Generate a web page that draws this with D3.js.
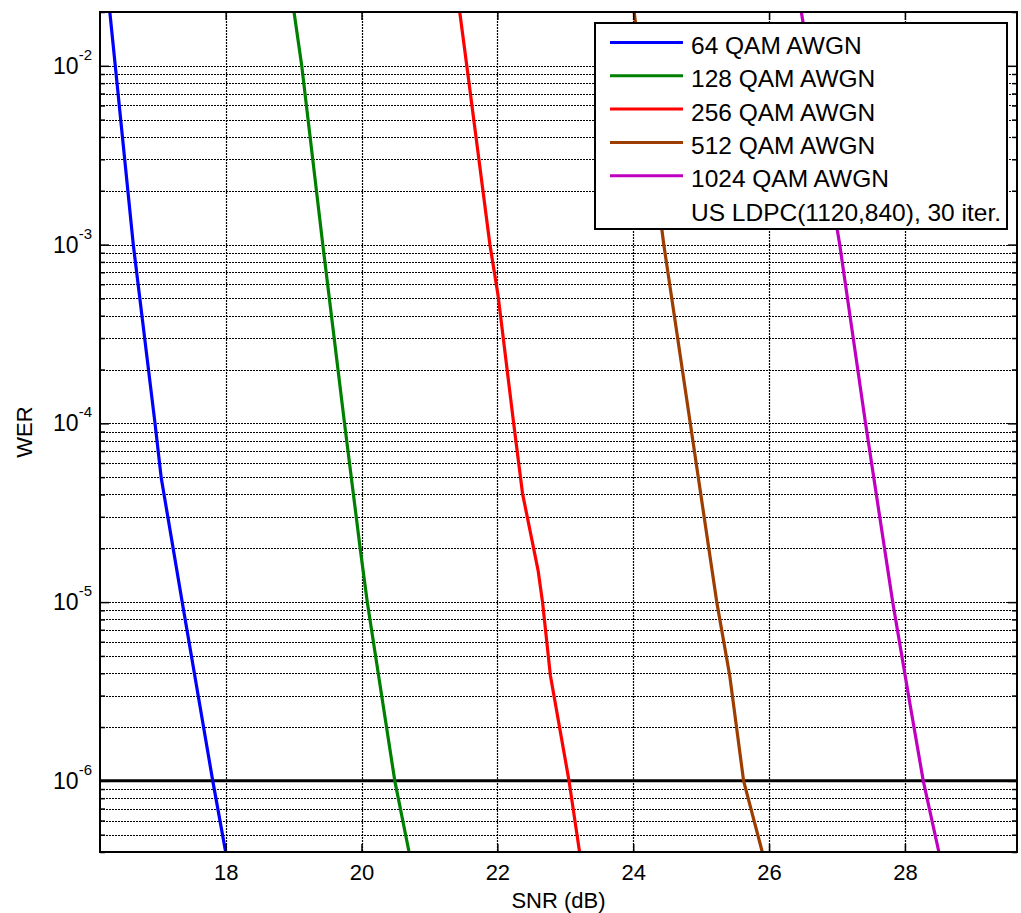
<!DOCTYPE html>
<html><head><meta charset="utf-8">
<script src="https://cdn.jsdelivr.net/npm/d3@7"></script>
<style>
body{margin:0;background:#fff}
svg{display:block}
text{font-family:"Liberation Sans",Arial,Helvetica,sans-serif;fill:#000}
</style>
</head><body>
<svg id="chart" width="1021" height="913"></svg>
<script>
// ---------- data ----------
const xDomain = [16.15, 29.65];
const yDomain = [4e-7, 2e-2];
const snrTicks = [18, 20, 22, 24, 26, 28];
const decadeExps = [-6, -5, -4, -3, -2];
const xLabel = "SNR (dB)";
const yLabel = "WER";
const refWER = 1e-6;

const seriesNames = ["64 QAM AWGN", "128 QAM AWGN", "256 QAM AWGN", "512 QAM AWGN", "1024 QAM AWGN"];
const seriesColors = ["#0000ff", "#008000", "#ff0000", "#9e3d00", "#c000c0"];
const legendNote = "US LDPC(1120,840), 30 iter.";

const snr64  = [16.29, 16.375, 16.64, 16.96, 17.05, 17.36, 17.81, 18.0];
const wer64  = [2.08e-2, 1e-2, 1e-3, 1e-4, 5.0e-5, 1e-5, 1e-6, 4.0e-7];
const snr128 = [19.0, 19.12, 19.43, 19.75, 19.98, 20.085, 20.49, 20.70];
const wer128 = [2.08e-2, 1e-2, 1e-3, 1e-4, 2.0e-5, 1e-5, 1e-6, 4.0e-7];
const snr256 = [21.44, 21.55, 21.89, 22.01, 22.24, 22.37, 22.60, 22.665, 22.78, 23.055, 23.21];
const wer256 = [2.08e-2, 1e-2, 1e-3, 5.2e-4, 1e-4, 4.06e-5, 1.5e-5, 1e-5, 3.9e-6, 1e-6, 4.0e-7];
const snr512 = [24.01, 24.45, 24.84, 25.23, 25.42, 25.625, 25.90];
const wer512 = [2.05e-2, 1e-3, 1e-4, 1e-5, 3.9e-6, 1e-6, 4.0e-7];
const snr1024 = [26.47, 27.04, 27.42, 27.82, 28.06, 28.27, 28.50];
const wer1024 = [2.05e-2, 1e-3, 1e-4, 1e-5, 2.9e-6, 1e-6, 4.0e-7];

const seriesSNR = [snr64, snr128, snr256, snr512, snr1024];
const seriesWER = [wer64, wer128, wer256, wer512, wer1024];

// ---------- layout ----------
const M = {left: 100, top: 12, right: 1017, bottom: 852};
const svg = d3.select("#chart");
const x = d3.scaleLinear().domain(xDomain).range([M.left, M.right]);
const y = d3.scaleLog().domain(yDomain).range([M.bottom, M.top]);

const yAll = [];
for (let e = -7; e <= -2; e++) {
  for (let k = 1; k <= 9; k++) {
    const v = k * Math.pow(10, e);
    if (v >= yDomain[0] * 0.999 && v <= yDomain[1] * 1.001) yAll.push(v);
  }
}
const yMajor = decadeExps.map(e => Math.pow(10, e));
const yMinor = yAll.filter(v => !yMajor.some(m => Math.abs(m - v) / m < 1e-6));

svg.append("defs").append("clipPath").attr("id", "clip")
  .append("rect").attr("x", M.left).attr("y", M.top)
  .attr("width", M.right - M.left).attr("height", M.bottom - M.top);

// grid
const grid = svg.append("g").attr("stroke", "#000").attr("stroke-width", 1.2)
  .attr("stroke-dasharray", "2,1").attr("fill", "none");
grid.selectAll(".hg").data(yAll).enter().append("line")
  .attr("x1", M.left).attr("x2", M.right)
  .attr("y1", d => Math.round(y(d)) + 0.5).attr("y2", d => Math.round(y(d)) + 0.5);
grid.selectAll(".vg").data(snrTicks).enter().append("line")
  .attr("y1", M.top).attr("y2", M.bottom)
  .attr("x1", d => Math.round(x(d)) + 0.5).attr("x2", d => Math.round(x(d)) + 0.5);

// reference line at 1e-6
svg.append("line").attr("x1", M.left).attr("x2", M.right)
  .attr("y1", y(refWER)).attr("y2", y(refWER))
  .attr("stroke", "#000").attr("stroke-width", 3);

// curves
const line = d3.line().x(d => x(d[0])).y(d => y(d[1]));
const curves = svg.append("g").attr("clip-path", "url(#clip)");
seriesSNR.forEach((s, i) => {
  const pts = s.map((v, j) => [v, seriesWER[i][j]]);
  curves.append("path").datum(pts).attr("d", line)
    .attr("fill", "none").attr("stroke", seriesColors[i])
    .attr("stroke-width", 3.2).attr("stroke-linejoin", "round");
});

// axes (inner ticks)
const fs = 22;
const bottomAxis = svg.append("g").attr("transform", `translate(0,${M.bottom})`)
  .call(d3.axisBottom(x).tickValues(snrTicks).tickSize(-8).tickPadding(12).tickFormat(d3.format("d")));
const topAxis = svg.append("g").attr("transform", `translate(0,${M.top})`)
  .call(d3.axisTop(x).tickValues(snrTicks).tickSize(-8).tickFormat(""));
const leftMajor = svg.append("g").attr("transform", `translate(${M.left},0)`)
  .call(d3.axisLeft(y).tickValues(yMajor).tickSize(-9).tickFormat(""));
const leftMinor = svg.append("g").attr("transform", `translate(${M.left},0)`)
  .call(d3.axisLeft(y).tickValues(yMinor).tickSize(-5).tickFormat(""));
const rightMajor = svg.append("g").attr("transform", `translate(${M.right},0)`)
  .call(d3.axisRight(y).tickValues(yMajor).tickSize(-9).tickFormat(""));
const rightMinor = svg.append("g").attr("transform", `translate(${M.right},0)`)
  .call(d3.axisRight(y).tickValues(yMinor).tickSize(-5).tickFormat(""));
[bottomAxis, topAxis, leftMajor, leftMinor, rightMajor, rightMinor].forEach(g => {
  g.select(".domain").remove();
  g.selectAll(".tick line").attr("stroke", "#000").attr("stroke-width", 1.5);
});
bottomAxis.selectAll("text").attr("font-size", fs)
  .attr("font-family", "Liberation Sans, Arial, sans-serif").attr("fill", "#000");

// y labels with superscript
const yl = svg.append("g").selectAll("text").data(decadeExps).enter().append("text")
  .attr("x", 92).attr("y", d => y(Math.pow(10, d)) + 8)
  .attr("text-anchor", "end").attr("font-size", fs + 1);
yl.append("tspan").text("10");
yl.append("tspan").attr("dy", -14).attr("font-size", 15).text(d => String(d));

// border
svg.append("rect").attr("x", M.left).attr("y", M.top)
  .attr("width", M.right - M.left).attr("height", M.bottom - M.top)
  .attr("fill", "none").attr("stroke", "#000").attr("stroke-width", 2);

// axis labels
svg.append("text").attr("x", (M.left + M.right) / 2).attr("y", 908)
  .attr("text-anchor", "middle").attr("font-size", fs).text(xLabel);
svg.append("text").attr("transform", `translate(32,${(M.top + M.bottom) / 2}) rotate(-90)`)
  .attr("text-anchor", "middle").attr("font-size", fs).text(yLabel);

// legend
const L = {x: 595, y: 23, w: 412, h: 206, row0: 45.5, rowH: 33.3};
const lg = svg.append("g");
lg.append("rect").attr("x", L.x).attr("y", L.y).attr("width", L.w).attr("height", L.h)
  .attr("fill", "#fff").attr("stroke", "#000").attr("stroke-width", 2);
const legendRows = seriesNames.concat([legendNote]);
legendRows.forEach((name, i) => {
  const cy = L.row0 + i * L.rowH;
  if (i < seriesNames.length) {
    lg.append("line").attr("x1", 610).attr("x2", 683)
      .attr("y1", cy - 3).attr("y2", cy - 3)
      .attr("stroke", seriesColors[i]).attr("stroke-width", 3);
  }
  lg.append("text").attr("x", 691).attr("y", cy + 8.5)
    .attr("font-size", 24.5).text(name);
});
</script>
</body></html>
